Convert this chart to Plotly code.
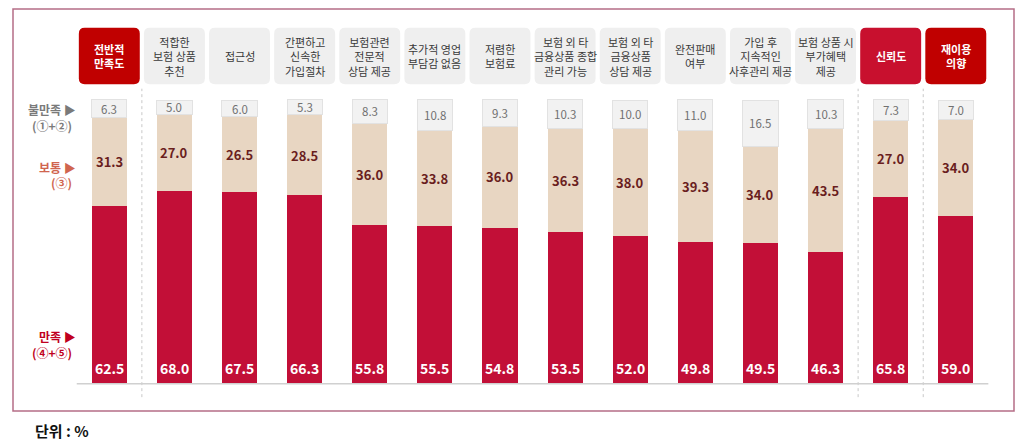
import plotly.graph_objects as go

# ---------------- data ----------------
categories = [
    "전반적<br>만족도", "적합한<br>보험 상품<br>추천", "접근성", "간편하고<br>신속한<br>가입절차",
    "보험관련<br>전문적<br>상담 제공", "추가적 영업<br>부담감 없음", "저렴한<br>보험료",
    "보험 외 타<br>금융상품 종합<br>관리 가능", "보험 외 타<br>금융상품<br>상담 제공",
    "완전판매<br>여부", "가입 후<br>지속적인<br>사후관리 제공", "보험 상품 시<br>부가혜택<br>제공",
    "신뢰도", "재이용<br>의향",
]
satisfied = [62.5, 68.0, 67.5, 66.3, 55.8, 55.5, 54.8, 53.5, 52.0, 49.8, 49.5, 46.3, 65.8, 59.0]
neutral = [31.3, 27.0, 26.5, 28.5, 36.0, 33.8, 36.0, 36.3, 38.0, 39.3, 34.0, 43.5, 27.0, 34.0]
dissatisfied = [6.3, 5.0, 6.0, 5.3, 8.3, 10.8, 9.3, 10.3, 10.0, 11.0, 16.5, 10.3, 7.3, 7.0]
header_style = ["dark", "gray", "gray", "gray", "gray", "gray", "gray", "gray", "gray",
                "gray", "gray", "gray", "crimson", "dark"]
legend_names = ["불만족 ▶", "보통 ▶", "만족 ▶"]
legend_codes = ["(①+②)", "(③)", "(④+⑤)"]
unit_label = "단위 : %"

# ---------------- styles ----------------
FONT = "Noto Sans CJK KR"
RED = "#c20f37"
BEIGE = "#e8d6c2"
GRAY = "#f2f2f2"
idx = list(range(len(categories)))
BW = 0.54

fig = go.Figure()
fig.add_trace(go.Bar(x=idx, y=satisfied, width=BW, marker=dict(color=RED, line=dict(width=0)),
                     hoverinfo="skip", name="만족"))
fig.add_trace(go.Bar(x=idx, y=neutral, width=BW, marker=dict(color=BEIGE, line=dict(width=0)),
                     hoverinfo="skip", name="보통"))
fig.add_trace(go.Bar(x=idx, y=dissatisfied, width=BW,
                     marker=dict(color=GRAY, line=dict(color="#e2e2e2", width=1)),
                     hoverinfo="skip", name="불만족"))

annotations = []
shapes = []
for i in idx:
    s, n, d = satisfied[i], neutral[i], dissatisfied[i]
    annotations.append(dict(x=i, y=5.3, text=f"<b>{s:.1f}</b>", showarrow=False, xref="x", yref="y",
                            font=dict(family=FONT, size=14, color="white"), yanchor="middle"))
    annotations.append(dict(x=i, y=s + n / 2, text=f"<b>{n:.1f}</b>", showarrow=False, xref="x", yref="y",
                            font=dict(family=FONT, size=13, color="#6a1e1e"), yanchor="middle"))
    annotations.append(dict(x=i, y=s + n + d / 2, text=f"{d:.1f}", showarrow=False, xref="x", yref="y",
                            font=dict(family=FONT, size=11.5, color="#707070"), yanchor="middle"))
    # header box
    style = header_style[i]
    fill = {"dark": "#c00000", "crimson": "#c8102e", "gray": "#efefef"}[style]
    tcol = "white" if style != "gray" else "#3a3a3a"
    x0, x1, y0, y1 = i - 0.468, i + 0.468, 105.6, 125.5
    rx, ry = 0.09, 2.1
    path = (f"M {x0+rx},{y0} L {x1-rx},{y0} Q {x1},{y0} {x1},{y0+ry} L {x1},{y1-ry} "
            f"Q {x1},{y1} {x1-rx},{y1} L {x0+rx},{y1} Q {x0},{y1} {x0},{y1-ry} "
            f"L {x0},{y0+ry} Q {x0},{y0} {x0+rx},{y0} Z")
    shapes.append(dict(type="path", path=path, xref="x", yref="y", fillcolor=fill,
                       line=dict(width=0), layer="below"))
    txt = categories[i] if style == "gray" else f"<b>{categories[i]}</b>"
    annotations.append(dict(x=i, y=(y0 + y1) / 2, text=txt, showarrow=False, xref="x", yref="y",
                            font=dict(family=FONT, size=11, color=tcol), yanchor="middle",
                            align="center"))

# dotted separators
for sx in [0.5, 11.5, 12.5]:
    shapes.append(dict(type="line", x0=sx, x1=sx, y0=-5, y1=104, xref="x", yref="y",
                       line=dict(color="#c8c8c8", width=1, dash="dot"), layer="below"))
# baseline
shapes.append(dict(type="line", x0=-0.5, x1=13.5, y0=-0.3, y1=-0.3, xref="x", yref="y",
                   line=dict(color="#d0d0d0", width=1.5)))
# outer border
shapes.append(dict(type="rect", x0=0, x1=1, y0=0, y1=1, xref="paper", yref="paper",
                   line=dict(color="#b56d86", width=1.5), fillcolor="rgba(0,0,0,0)"))

# left legend labels (two separate lines each)
name_y = [96.5, 76.3, 16.3]
code_y = [90.9, 71.0, 10.7]
legend_col = ["#7a7a7a", "#d0654f", "#c00020"]
for nm, cd, ny, cy, lc in zip(legend_names, legend_codes, name_y, code_y, legend_col):
    annotations.append(dict(x=-0.49, y=ny, text=f"<b>{nm}</b>", showarrow=False, xref="x", yref="y",
                            xanchor="right", yanchor="middle", borderpad=0,
                            font=dict(family=FONT, size=12, color=lc)))
    annotations.append(dict(x=-0.56, y=cy, text=f"<b>{cd}</b>", showarrow=False, xref="x", yref="y",
                            xanchor="right", yanchor="middle", borderpad=0,
                            font=dict(family=FONT, size=12, color=lc)))

annotations.append(dict(x=0.02, y=-0.048, xref="paper", yref="paper", text=f"<b>{unit_label}</b>",
                        showarrow=False, xanchor="left", yanchor="middle",
                        font=dict(family=FONT, size=15, color="#111111")))

# page body has an 8px margin, so the figure is drawn 8px smaller and shifted
fig.update_layout(
    width=1016, height=439,
    barmode="stack",
    showlegend=False,
    plot_bgcolor="white", paper_bgcolor="white",
    margin=dict(l=5, r=10, t=1, b=36),
    xaxis=dict(visible=False, range=[-1.479, 13.894], fixedrange=True),
    yaxis=dict(visible=False, range=[-9.894, 132.16], fixedrange=True),
    annotations=annotations,
    shapes=shapes,
    font=dict(family=FONT),
)

fig.write_html("out.html")
